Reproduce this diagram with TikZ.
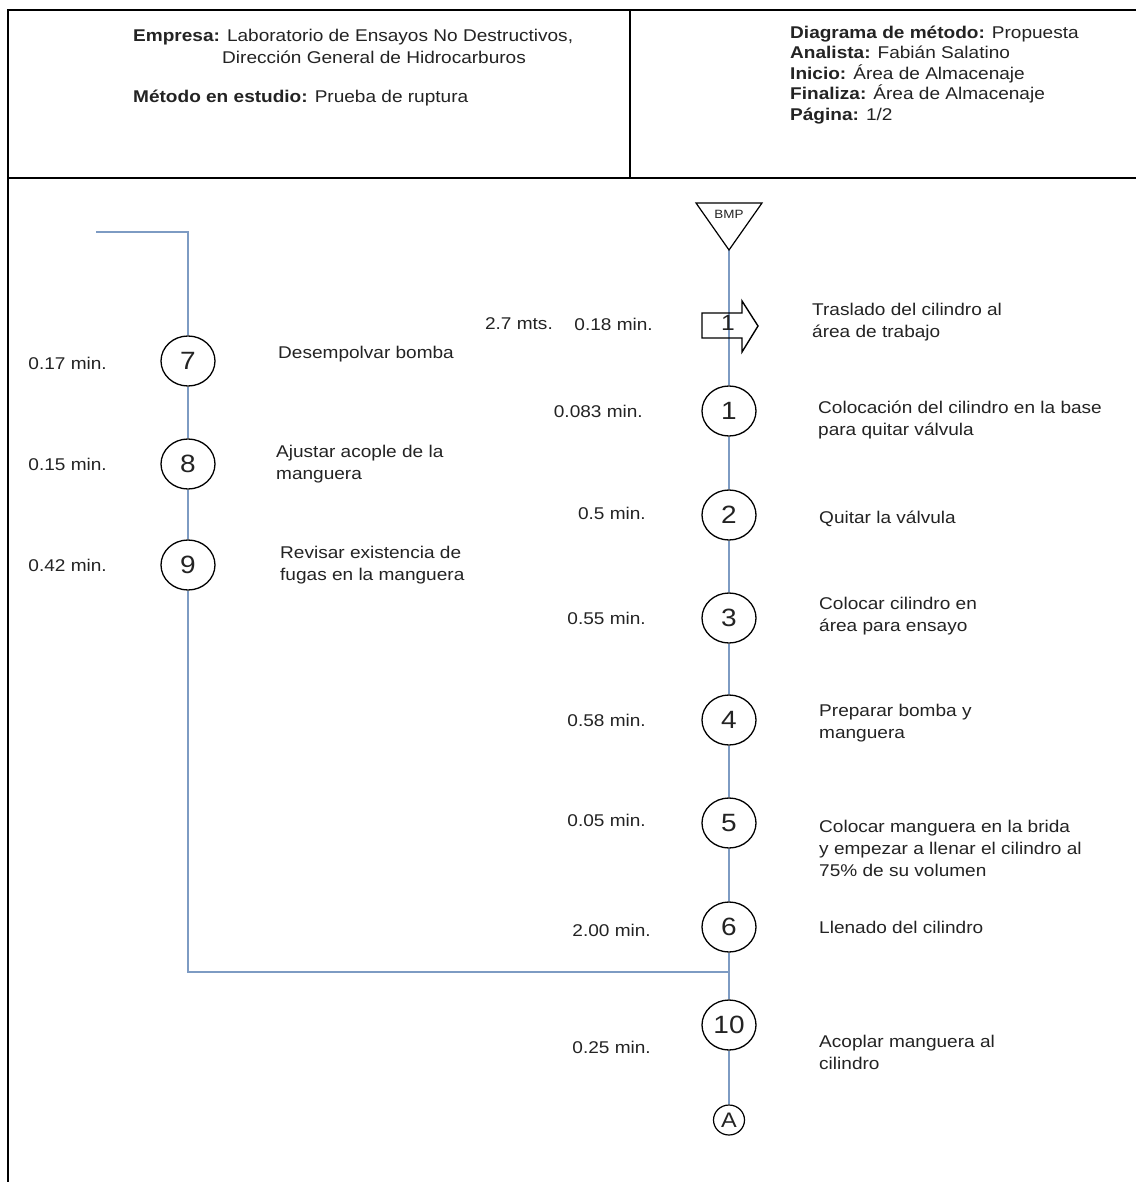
\documentclass[tikz,border=0pt]{standalone}
\usepackage{fontspec}
\setmainfont[FakeStretch=1.12]{Liberation Sans}
\usetikzlibrary{shapes.geometric}
\definecolor{flow}{RGB}{125,155,195}
\definecolor{txt}{RGB}{35,35,35}
\pgfdeclarelayer{background}
\pgfdeclarelayer{paper}
\pgfsetlayers{paper,background,main}
\begin{document}
\begin{tikzpicture}[x=1pt,y=-1pt,
  frame/.style={draw=black,line width=2.2pt},
  flowline/.style={draw=flow,line width=2pt},
  opnode/.style={ellipse,draw=black,line width=1.3pt,fill=white,minimum width=54pt,minimum height=50pt,inner sep=0pt,text=txt,font=\fontsize{25}{25}\selectfont},
  lbl/.style={anchor=west,align=left,inner sep=0pt,text=txt,font=\fontsize{17}{22}\selectfont},
  tm/.style={anchor=east,inner sep=0pt,text=txt,font=\fontsize{17}{22}\selectfont},
  hdr/.style={anchor=west,align=left,inner sep=0pt,text=txt,font=\fontsize{17}{20.5}\selectfont}]
\useasboundingbox (0,0) rectangle (1135,1182);
\begin{pgfonlayer}{paper}
\fill[white] (0,0) rectangle (1135,1182);
\end{pgfonlayer}

% frame
\draw[frame] (8,1190) -- (8,10) -- (1140,10);
\draw[frame] (8,178) -- (1140,178);
\draw[frame] (630,10) -- (630,178);

% header
\node[hdr] (emp) at (133,37) {\textbf{Empresa:} Laboratorio de Ensayos No Destructivos,};
\node[hdr] (emp2) at (222,57) {Dirección General de Hidrocarburos};
\node[hdr] (met) at (133,98) {\textbf{Método en estudio:} Prueba de ruptura};
\node[hdr] (info) at (790,75) {\textbf{Diagrama de método:} Propuesta\\
  \textbf{Analista:} Fabián Salatino\\
  \textbf{Inicio:} Área de Almacenaje\\
  \textbf{Finaliza:} Área de Almacenaje\\
  \textbf{Página:} 1/2};

% start symbol
\coordinate (bmpapex) at (729,250);
\draw[black,line width=1.2pt,fill=white] (696,203) -- (762,203) -- (bmpapex) -- cycle;
\node[inner sep=0pt,text=txt,font=\fontsize{12}{12}\selectfont] (bmp) at (729,214) {BMP};

% transport arrow
\draw[black,line width=1.4pt] (702,313) -- (742,313) -- (742,301) -- (758,326) -- (742,352) -- (742,338) -- (702,338) -- cycle;
\node[inner sep=0pt,text=txt,font=\fontsize{22}{22}\selectfont] (t1) at (728,323) {1};

% operations (right column)
\node[opnode] (o1) at (729,411) {1};
\node[opnode] (o2) at (729,515) {2};
\node[opnode] (o3) at (729,618) {3};
\node[opnode] (o4) at (729,720) {4};
\node[opnode] (o5) at (729,823) {5};
\node[opnode] (o6) at (729,927) {6};
\node[opnode] (o10) at (729,1025) {10};
\node[ellipse,draw=black,line width=1.2pt,fill=white,minimum width=31pt,minimum height=30pt,inner sep=0pt,text=txt,font=\fontsize{21}{21}\selectfont] (fin) at (729,1120) {A};

% operations (left column)
\node[opnode] (o7) at (188,361) {7};
\node[opnode] (o8) at (188,464) {8};
\node[opnode] (o9) at (188,565) {9};

\coordinate (in) at (96,232);
\coordinate (corner) at (188,232);
\coordinate (j1) at (188,972);
\coordinate (j2) at (729,972);

\begin{pgfonlayer}{background}
\draw[flowline] (bmpapex) -- (o1) -- (o2) -- (o3) -- (o4) -- (o5) -- (o6) -- (o10) -- (fin);
\draw[flowline] (in) -- (corner) -- (o7) -- (o8) -- (o9) -- (j1) -- (j2);
\end{pgfonlayer}

% left labels
\node[tm] (m7) at (107,363) {0.17 min.};
\node[tm] (m8) at (107,464) {0.15 min.};
\node[tm] (m9) at (107,565) {0.42 min.};
\node[lbl] (d7) at (278,354) {Desempolvar bomba};
\node[lbl] (d8) at (276,464) {Ajustar acople de la\\manguera};
\node[lbl] (d9) at (280,565) {Revisar existencia de\\fugas en la manguera};

% right labels
\node[tm] (dist1) at (553,324) {2.7 mts.};
\node[tm] (mt1) at (653,324) {0.18 min.};
\node[lbl] (dt1) at (812,322) {Traslado del cilindro al\\área de trabajo};
\node[tm] (m1) at (643,411) {0.083 min.};
\node[lbl] (d1) at (818,420) {Colocación del cilindro en la base\\para quitar válvula};
\node[tm] (m2) at (646,513) {0.5 min.};
\node[lbl] (d2) at (819,519) {Quitar la válvula};
\node[tm] (m3) at (646,618) {0.55 min.};
\node[lbl] (d3) at (819,616) {Colocar cilindro en\\área para ensayo};
\node[tm] (m4) at (646,720) {0.58 min.};
\node[lbl] (d4) at (819,723) {Preparar bomba y\\manguera};
\node[tm] (m5) at (646,820) {0.05 min.};
\node[lbl] (d5) at (819,848) {Colocar manguera en la brida\\y empezar a llenar el cilindro al\\75\% de su volumen};
\node[tm] (m6) at (651,930) {2.00 min.};
\node[lbl] (d6) at (819,927) {Llenado del cilindro};
\node[tm] (m10) at (651,1047) {0.25 min.};
\node[lbl] (d10) at (819,1052) {Acoplar manguera al\\cilindro};
\end{tikzpicture}
\end{document}
